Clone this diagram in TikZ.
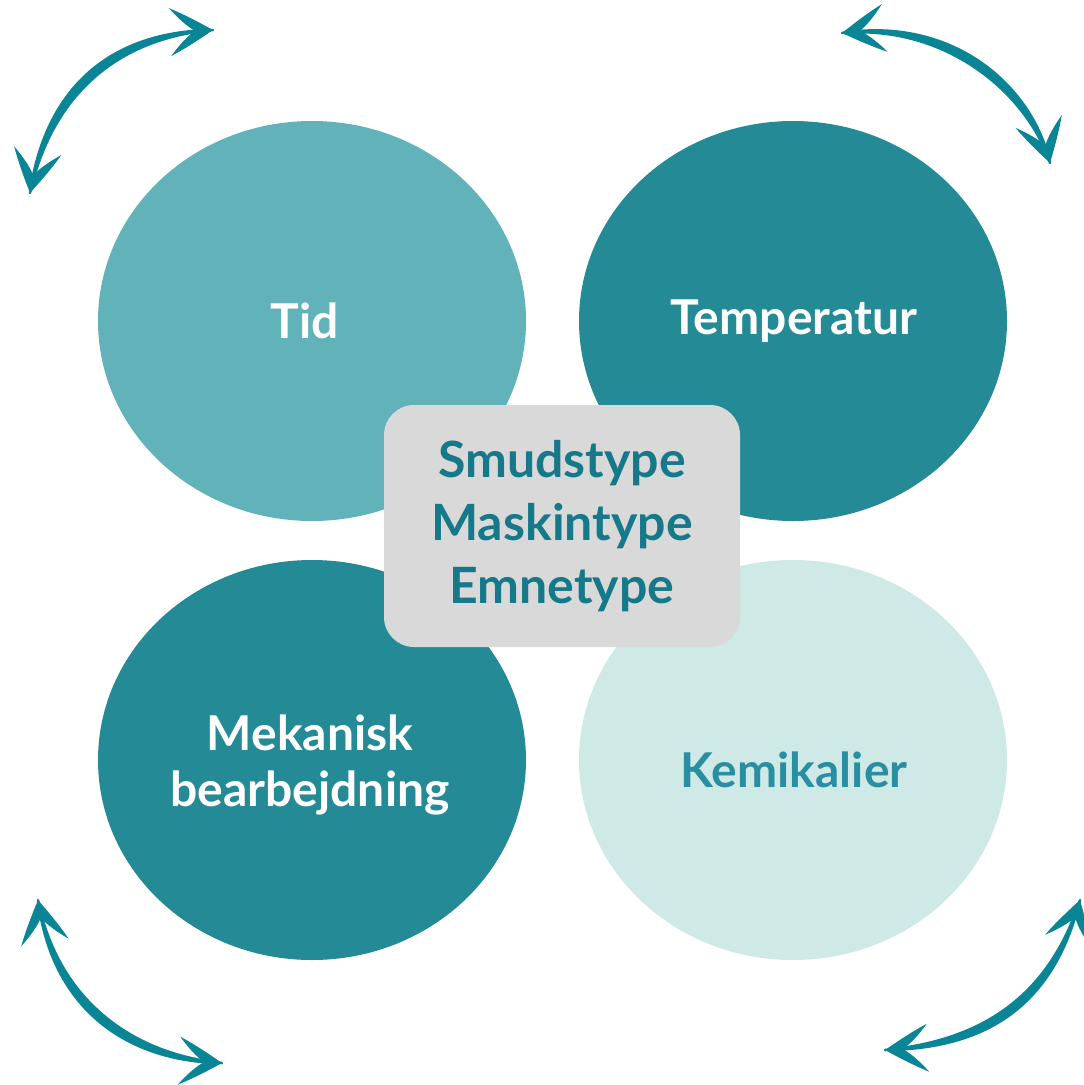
\documentclass[tikz,border=0pt]{standalone}
\usepackage{fontspec}
\setmainfont{Lato}
\usetikzlibrary{shapes.geometric}
\definecolor{tidc}{HTML}{62B2BA}
\definecolor{darkc}{HTML}{248A96}
\definecolor{kemc}{HTML}{CFE9E6}
\definecolor{boxc}{HTML}{D9D9D9}
\definecolor{boxtext}{HTML}{15798A}
\definecolor{kemtext}{HTML}{2A8EA2}
\definecolor{arrc}{HTML}{0A8595}
\tikzset{
  bubble/.style={ellipse, minimum width=428pt, minimum height=400pt, inner sep=0pt},
  bubbletext/.style={font=\fontsize{48}{56}\selectfont\bfseries, text=white, align=center, inner sep=0pt},
  centerbox/.style={rectangle, rounded corners=30pt, fill=boxc, minimum width=356pt, minimum height=242pt, font=\fontsize{50}{63}\selectfont\bfseries, text=boxtext, align=center},
  arrowbody/.style={fill=arrc, draw=arrc, line width=2.5pt, line join=round},
  barbhead/.pic={
    \fill[arrc] (0,0) .. controls (-13,-8) and (-28,-17) .. (-43,-24)
      .. controls (-35,-14) and (-26,-5) .. (-18,0)
      .. controls (-26,5) and (-35,14) .. (-43,24)
      .. controls (-28,17) and (-13,8) .. (0,0) -- cycle;
  }
}
\begin{document}
\begin{tikzpicture}[x=1pt,y=-1pt]
\useasboundingbox (0,0) rectangle (1084,1085);
\fill[white] (0,0) rectangle (1084,1085);
\node[bubble, fill=tidc] (tid) at (312,321) {};
\node[bubble, fill=darkc] (temp) at (793,321) {};
\node[bubble, fill=darkc] (mek) at (312,760) {};
\node[bubble, fill=kemc] (kem) at (793,760) {};
\node[bubbletext] (tidlabel) at (305,321) {Tid};
\node[bubbletext] (templabel) at (794,321) {Temperatur};
\node[bubbletext] (meklabel) at (310,765) {Mekanisk\\bearbejdning};
\node[bubbletext, text=kemtext] (kemlabel) at (794,770) {Kemikalier};
\node[centerbox] (center) at (562,526) {Smudstype\\Maskintype\\Emnetype};
% arrow end points
\coordinate (tlA) at (30,193);
\coordinate (tlB) at (213,30);
\coordinate (trA) at (842,33);
\coordinate (trB) at (1050,163);
\coordinate (blA) at (38,900);
\coordinate (blB) at (222,1063);
\coordinate (brA) at (1080,900);
\coordinate (brB) at (885,1050);
% bodies (tapered)
\path[arrowbody] (tlA) .. controls (51.3,98.7) and (113.3,38.7) .. (tlB)
  .. controls (106.7,31.3) and (44.7,91.3) .. (tlA) -- cycle;
\path[arrowbody] (trA) .. controls (947.3,24.3) and (1027.3,94.3) .. (trB)
  .. controls (1032.7,85.7) and (952.7,15.7) .. (trA) -- cycle;
\path[arrowbody] (blA) .. controls (51.7,1008.8) and (126.7,1061.8) .. (blB)
  .. controls (133.3,1054.2) and (58.3,1001.2) .. (blA) -- cycle;
\path[arrowbody] (brA) .. controls (1047,1001) and (977,1041) .. (brB)
  .. controls (983,1049) and (1053,1009) .. (brA) -- cycle;
% heads
\pic[shift={(tlA)}, rotate=-100.4] {barbhead};
\pic[shift={(tlB)}, rotate=2.8] {barbhead};
\pic[shift={(trA)}, rotate=186.8] {barbhead};
\pic[shift={(trB)}, rotate=-74.7] {barbhead};
\pic[shift={(blA)}, rotate=99.2] {barbhead};
\pic[shift={(blB)}, rotate=-3.1] {barbhead};
\pic[shift={(brA)}, rotate=74.0] {barbhead};
\pic[shift={(brB)}, rotate=183.0] {barbhead};
\end{tikzpicture}
\end{document}
